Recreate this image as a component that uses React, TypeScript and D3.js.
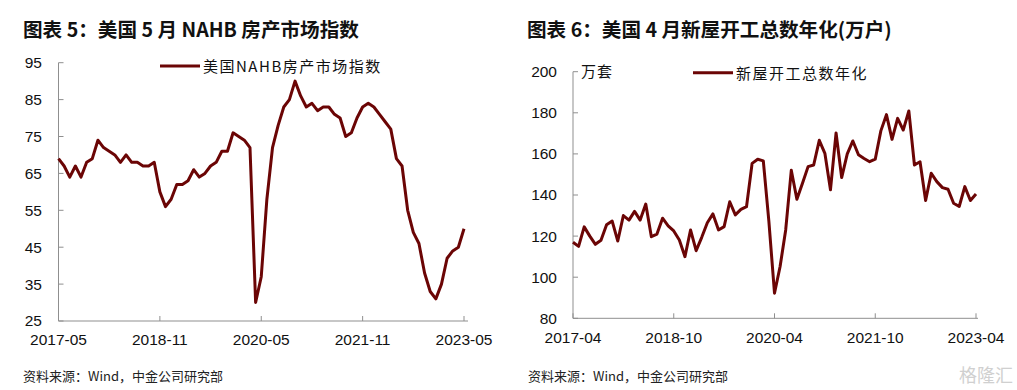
import React from "react";
import * as d3 from "d3";

// left panel: NAHB index, 2017-05 .. 2023-05
const nahbValues = [
  69, 67, 64, 67, 64, 68, 69, 74,
  72, 71, 70, 68, 70, 68, 68, 67, 67, 68, 60, 56,
  58, 62, 62, 63, 66, 64, 65, 67, 68, 71, 71, 76,
  75, 74, 72, 30, 37, 58, 72, 78, 83, 85, 90, 86,
  83, 84, 82, 83, 83, 81, 80, 75, 76, 80, 83, 84,
  83, 81, 79, 77, 69, 67, 55, 49, 46, 38, 33, 31,
  35, 42, 44, 45, 50,
];
const nahbTicks = ["2017-05", "2018-11", "2020-05", "2021-11", "2023-05"];
const nahbYTicks = [25, 35, 45, 55, 65, 75, 85, 95];

// right panel: housing starts, annualized (10k units), 2017-04 .. 2023-04
const startsValues = [
  117, 115, 124.5, 120, 116, 118, 125.5, 127.3, 117.6,
  130, 127.8, 132, 127.8, 135.6, 119.7, 121, 128.7, 125, 122.5, 118.1, 110,
  123, 112.9, 119.4, 126.5, 130.8, 123, 124.6, 136.7, 130.3, 133, 134.3, 155.4,
  157.4, 156.6, 127, 92.2, 105.2, 123, 152, 137.9, 145.7, 153.8, 154.6, 166.6,
  160.3, 142.5, 170.2, 148.5, 160, 166.3, 159.6, 157.8, 156.2, 157.4, 171.2, 179.1,
  167.1, 177.3, 171.6, 180.9, 154.6, 156.2, 137.3, 150.6, 146.5, 143.6, 142.8, 136,
  134.4, 144.1, 137.3, 140.5,
];
const startsTicks = ["2017-04", "2018-10", "2020-04", "2021-10", "2023-04"];
const startsYTicks = [80, 100, 120, 140, 160, 180, 200];

const LINE = "#6b0505";
const AXIS = "#8f8f8f";
const NUM_FONT = "'Liberation Sans', Arial, sans-serif";
const CJK_FONT = "'Noto Sans CJK SC', 'Liberation Sans', sans-serif";

const monthLabels = (start: Date, n: number) =>
  d3.range(n).map(i => d3.timeFormat("%Y-%m")(d3.timeMonth.offset(start, i)));

const Panel = ({ values, labels, ticks, yTicks, xRange, xEnd, yDomain, yRange, labelRight, xLabelY, unit, legend }) => {
  const x = d3.scalePoint().domain(labels).range(xRange);
  const y = d3.scaleLinear().domain(yDomain).range(yRange);
  const line = d3.line<number>()
    .x((_, i) => x(labels[i]))
    .y(d => y(d));
  const x0 = xRange[0];
  const yBottom = y(yDomain[0]);

  return (
    <g>
      {/* y axis */}
      <line x1={x0} x2={x0} y1={y(yDomain[1])} y2={yBottom} stroke={AXIS} />
      {yTicks.map(t => (
        <g key={t}>
          <line x1={x0} x2={x0 + 5} y1={y(t)} y2={y(t)} stroke={AXIS} />
          <text x={labelRight} y={y(t)} dy="0.35em" textAnchor="end"
            fontFamily={NUM_FONT} fontSize={15.5} fill="#111">{t}</text>
        </g>
      ))}
      {/* x axis */}
      <line x1={x0} x2={xEnd} y1={yBottom} y2={yBottom} stroke={AXIS} />
      {ticks.map(t => (
        <g key={t}>
          <line x1={x(t)} x2={x(t)} y1={yBottom} y2={yBottom - 5} stroke={AXIS} />
          <text x={x(t)} y={xLabelY} textAnchor="middle"
            fontFamily={NUM_FONT} fontSize={15.5} fill="#111">{t}</text>
        </g>
      ))}
      <path d={line(values)} fill="none" stroke={LINE} strokeWidth={3} strokeLinejoin="round" />
      {unit && (
        <text x={unit.x} y={unit.y} fontFamily={CJK_FONT} fontSize={15}
          letterSpacing={1} fill="#111">{unit.text}</text>
      )}
      <line x1={legend.x} x2={legend.x + 40} y1={legend.y} y2={legend.y} stroke={LINE} strokeWidth={3} />
      <text x={legend.x + 43} y={legend.y + 6} fontFamily={CJK_FONT} fontSize={15}
        letterSpacing={1.5} fill="#111">{legend.text}</text>
    </g>
  );
};

export default function App() {
  const nahbLabels = monthLabels(new Date(2017, 4, 1), nahbValues.length);
  const startsLabels = monthLabels(new Date(2017, 3, 1), startsValues.length);

  return (
    <div style={{ position: "absolute", left: 0, top: 0 }}>
      <svg width={1017} height={390} style={{ display: "block", background: "#fff" }}>
        <text x={23} y={37} fontFamily={CJK_FONT} fontWeight={700} fontSize={19.6} fill="#111">
          图表 5：美国 5 月 NAHB 房产市场指数
        </text>
        <text x={527} y={37} fontFamily={CJK_FONT} fontWeight={700} fontSize={19.6} fill="#111">
          图表 6：美国 4 月新屋开工总数年化(万户)
        </text>

        <Panel
          values={nahbValues}
          labels={nahbLabels}
          ticks={nahbTicks}
          yTicks={nahbYTicks}
          xRange={[58.5, 464]}
          xEnd={468}
          yDomain={[25, 95]}
          yRange={[321, 62.7]}
          labelRight={42}
          xLabelY={345}
          unit={null}
          legend={{ x: 160, y: 66, text: "美国NAHB房产市场指数" }}
        />
        <Panel
          values={startsValues}
          labels={startsLabels}
          ticks={startsTicks}
          yTicks={startsYTicks}
          xRange={[573, 976]}
          xEnd={978}
          yDomain={[80, 200]}
          yRange={[318.3, 71.7]}
          labelRight={557}
          xLabelY={343}
          unit={{ x: 581, y: 77, text: "万套" }}
          legend={{ x: 693, y: 72.7, text: "新屋开工总数年化" }}
        />

        <text x={23} y={381} fontFamily={CJK_FONT} fontSize={13} fill="#222">
          资料来源：Wind，中金公司研究部
        </text>
        <text x={528} y={381} fontFamily={CJK_FONT} fontSize={13} fill="#222">
          资料来源：Wind，中金公司研究部
        </text>
        <text x={1013} y={382} textAnchor="end" fontFamily={CJK_FONT} fontSize={18}
          fill="#d0d0d0">格隆汇</text>
      </svg>
    </div>
  );
}
